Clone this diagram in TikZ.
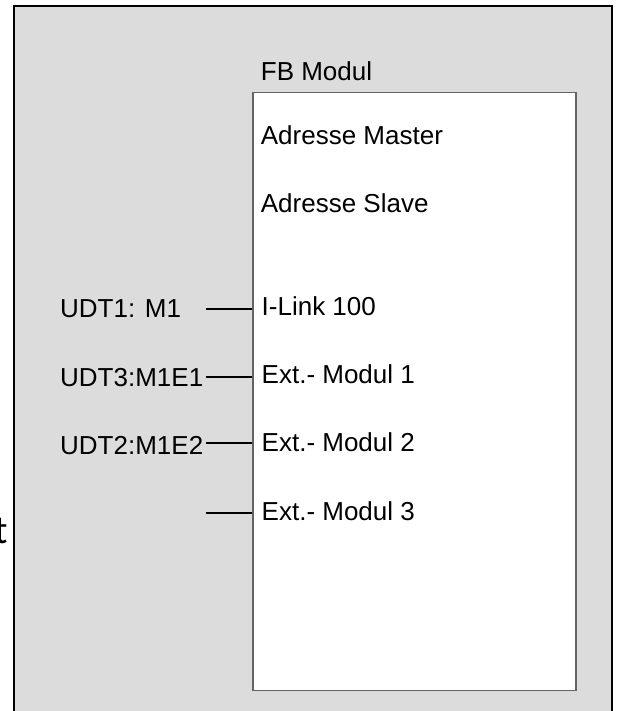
\documentclass[tikz,border=0pt]{standalone}
\usepackage{fontspec}
\setmainfont{Liberation Sans}
\newfontfamily\carlito{Carlito}
\definecolor{bggray}{RGB}{220,220,220}
\definecolor{boxline}{RGB}{100,100,100}
\begin{document}
\begin{tikzpicture}[x=1pt,y=-1pt,
  lbl/.style={anchor=base west,inner sep=0pt,font=\fontsize{26}{31}\selectfont},
  pin/.style={line width=1.8pt,black},
  fbbox/.style={draw=boxline,line width=1.6pt,fill=white,minimum width=323pt,minimum height=598pt,inner sep=0pt}]
\useasboundingbox (0,0) rectangle (619,711);
\draw[line width=2pt,fill=bggray] (14,6) rectangle (611.5,730);
\node[fbbox] (fb) at (414.4,391.5) {};
\node[anchor=base east,inner sep=0pt,font=\carlito\fontsize{40}{48}\selectfont] (frag) at (8,543) {t};
\node[lbl] (title) at (260.7,81) {FB Modul};
\node[lbl] (am) at (260.7,145) {Adresse Master};
\node[lbl] (as) at (260.7,212.7) {Adresse Slave};
\node[lbl] (il) at (261.5,315) {I-Link 100};
\node[lbl] (e1) at (261.5,383) {Ext.- Modul 1};
\node[lbl] (e2) at (261.5,451.7) {Ext.- Modul 2};
\node[lbl] (e3) at (261.5,520) {Ext.- Modul 3};
\node[lbl] (u1) at (60,317.5) {UDT1: M1};
\node[lbl] (u3) at (60,386) {UDT3:M1E1};
\node[lbl] (u2) at (60,454) {UDT2:M1E2};
\coordinate (p1) at (206,309);
\coordinate (p2) at (206,376.7);
\coordinate (p3) at (206,443.3);
\coordinate (p4) at (206,513.3);
\draw[pin] (p1) -- (p1 -| fb.west);
\draw[pin] (p2) -- (p2 -| fb.west);
\draw[pin] (p3) -- (p3 -| fb.west);
\draw[pin] (p4) -- (p4 -| fb.west);
\end{tikzpicture}
\end{document}
